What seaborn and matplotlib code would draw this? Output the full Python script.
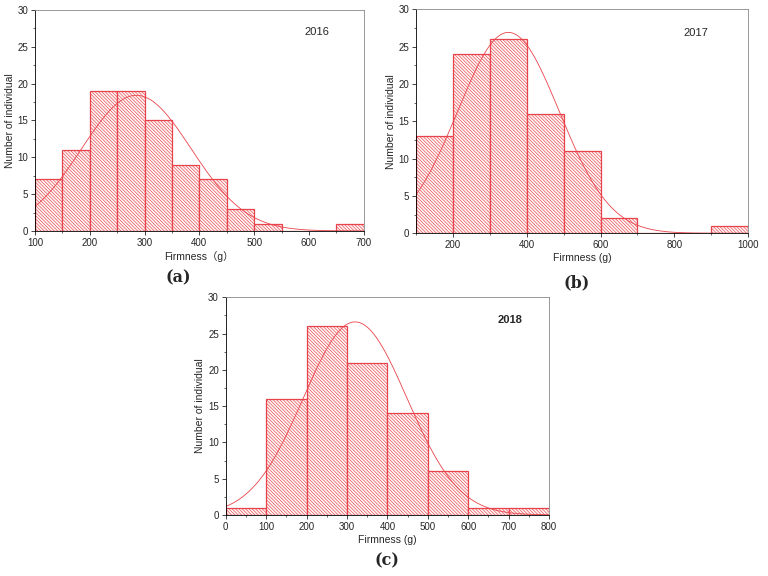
import numpy as np
import pandas as pd
import matplotlib
matplotlib.use('Agg')
import matplotlib.pyplot as plt
import seaborn as sns

# Datos
edges_2016 = [100, 150, 200, 250, 300, 350, 400, 450, 500, 550, 600, 650, 700]
counts_2016 = [7, 11, 19, 19, 15, 9, 7, 3, 1, 0, 0, 1]
fit_2016 = (285, 100, 18.4)  # media, desviación, pico

edges_2017 = [100, 200, 300, 400, 500, 600, 700, 800, 900, 1000]
counts_2017 = [13, 24, 26, 16, 11, 2, 0, 0, 1]
fit_2017 = (350, 138, 26.9)

edges_2018 = [0, 100, 200, 300, 400, 500, 600, 700, 800]
counts_2018 = [1, 16, 26, 21, 14, 6, 1, 1]
fit_2018 = (320, 128, 26.6)

sns.set_style('ticks')
plt.rcParams['font.family'] = ['Liberation Sans', 'Noto Sans CJK SC']
plt.rcParams['hatch.linewidth'] = 0.45
plt.rcParams['hatch.color'] = '#e8434a'

red = '#e8434a'

fig = plt.figure(figsize=(7.68, 5.76), dpi=100)

panels = [
    dict(rect=[0.0456, 0.599, 0.428, 0.384], edges=edges_2016, counts=counts_2016,
         fit=fit_2016, xticks=range(100, 701, 100), minor=range(100, 701, 50),
         xlabel='Firmness（g）', year='2016', yx=614, yy=27, bold=False,
         letter='(a)', lx=0.232, ly=0.517),
    dict(rect=[0.542, 0.595, 0.432, 0.389], edges=edges_2017, counts=counts_2017,
         fit=fit_2017, xticks=range(200, 1001, 200), minor=range(100, 1001, 100),
         xlabel='Firmness (g)', year='2017', yx=859, yy=26.8, bold=False,
         letter='(b)', lx=0.751, ly=0.509),
    dict(rect=[0.294, 0.106, 0.421, 0.378], edges=edges_2018, counts=counts_2018,
         fit=fit_2018, xticks=range(0, 801, 100), minor=range(0, 801, 50),
         xlabel='Firmness (g)', year='2018', yx=703, yy=26.8, bold=True,
         letter='(c)', lx=0.504, ly=0.026),
]

for p in panels:
    ax = fig.add_axes(p['rect'])
    edges = p['edges']
    centers = [(a + b) / 2 for a, b in zip(edges[:-1], edges[1:])]
    df = pd.DataFrame({'x': centers, 'n': p['counts']})

    # Histograma con sombreado diagonal
    sns.histplot(data=df, x='x', weights='n', bins=edges, ax=ax,
                 color='#fff6f6', edgecolor=red, linewidth=0.9,
                 hatch='\\' * 10, alpha=1)

    # Curva normal ajustada
    mu, sd, peak = p['fit']
    xs = np.linspace(edges[0], edges[-1], 300)
    ys = peak * np.exp(-(xs - mu) ** 2 / (2 * sd ** 2))
    sns.lineplot(x=xs, y=ys, ax=ax, color=red, linewidth=0.6)

    ax.set_xlim(edges[0], edges[-1])
    ax.set_ylim(0, 30)
    ax.set_xticks(list(p['xticks']))
    ax.set_xticks(list(p['minor']), minor=True)
    ax.set_yticks(range(0, 31, 5))
    ax.set_yticks(np.arange(0, 31, 2.5), minor=True)
    ax.tick_params(labelsize=7, length=3, width=0.6, pad=2)
    ax.tick_params(which='minor', length=1.5, width=0.5)
    for s in ax.spines.values():
        s.set_linewidth(0.6)
        s.set_color('#888888')
    ax.spines['left'].set_color('black')
    ax.spines['bottom'].set_color('black')

    ax.set_xlabel(p['xlabel'], fontsize=7.5, labelpad=2)
    ax.set_ylabel('Number of individual', fontsize=7.5, labelpad=2)

    ax.text(p['yx'], p['yy'], p['year'], fontsize=8,
            fontweight='bold' if p['bold'] else 'normal', ha='center', va='center')

    fig.text(p['lx'], p['ly'], p['letter'], fontsize=11.5, fontweight='bold',
             family='DejaVu Serif', ha='center', va='center')

fig.savefig('out.png', dpi=100)
